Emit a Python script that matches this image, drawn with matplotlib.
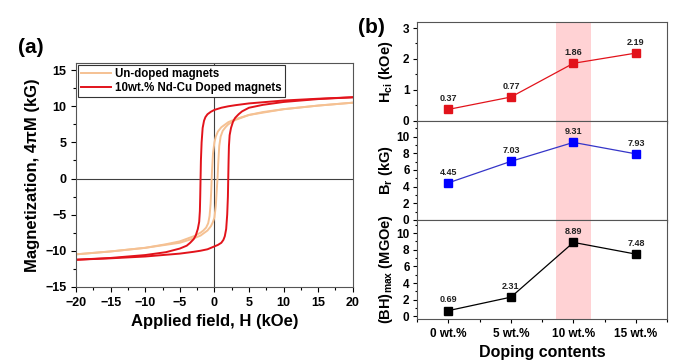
import matplotlib
matplotlib.use('Agg')
import matplotlib.pyplot as plt
from matplotlib.ticker import AutoMinorLocator, MultipleLocator
import numpy as np

plt.rcParams['font.family'] = ['Liberation Sans', 'DejaVu Sans']
plt.rcParams['font.weight'] = 'bold'
plt.rcParams['axes.labelweight'] = 'bold'
plt.rcParams['mathtext.fontset'] = 'custom'
plt.rcParams['mathtext.rm'] = 'Liberation Sans:bold'
plt.rcParams['mathtext.it'] = 'Liberation Sans:bold'
plt.rcParams['mathtext.bf'] = 'Liberation Sans:bold'
plt.rcParams['mathtext.default'] = 'rm'

# hysteresis loops (kOe, kG)
# doped, descending branch
h_dop_dn = [20, 15, 10, 5, 3, 2, 1, 0, -0.5, -1, -1.3, -1.5, -1.7, -1.85, -1.95, -2.0,
            -2.05, -2.1, -2.2, -2.4, -2.7, -3, -3.5, -4, -5, -7, -10, -15, -20]
m_dop_dn = [11.25, 11.05, 10.8, 10.4, 10.15, 10.0, 9.8, 9.5, 9.25, 8.9, 8.5, 8.0, 7.0, 5.0,
            2.5, 0, -2.5, -4.5, -6.0, -7.0, -7.9, -8.4, -8.9, -9.3, -9.7, -10.2, -10.6, -11.0, -11.25]
# doped, ascending branch
h_dop_up = [-20, -15, -10, -5, -3, -2, -1, 0, 0.5, 1, 1.3, 1.5, 1.7, 1.85, 1.95, 2.0,
            2.05, 2.1, 2.2, 2.4, 2.7, 3, 3.5, 4, 5, 7, 10, 15, 20]
m_dop_up = [-11.25, -11.05, -10.8, -10.4, -10.15, -10.0, -9.8, -9.4, -9.2, -8.9, -8.5, -8.0, -7.0,
            -5.0, -2.5, 0, 2.5, 4.5, 6.0, 7.0, 7.9, 8.4, 8.9, 9.3, 9.8, 10.2, 10.6, 11.0, 11.25]
# un-doped, descending branch
h_und_dn = [20, 15, 10, 5, 3, 2, 1, 0.5, 0.2, 0, -0.2, -0.35, -0.45, -0.55, -0.7, -0.9,
            -1.2, -1.6, -2, -3, -5, -7, -10, -15, -20]
m_und_dn = [10.5, 10.1, 9.6, 8.8, 8.2, 7.8, 7.1, 6.5, 5.8, 5.0, 3.5, 1.0, -1.5, -3.5, -5.2,
            -6.2, -6.8, -7.2, -7.5, -8.0, -8.7, -9.1, -9.6, -10.1, -10.5]
# un-doped, ascending branch
h_und_up = [-20, -15, -10, -5, -3, -2, -1, -0.5, -0.2, 0, 0.2, 0.35, 0.45, 0.55, 0.7, 0.9,
            1.2, 1.6, 2, 3, 5, 7, 10, 15, 20]
m_und_up = [-10.5, -10.1, -9.6, -8.9, -8.3, -7.9, -7.2, -6.6, -6.0, -5.4, -3.8, -1.5, 0, 2.0,
            4.5, 5.8, 6.6, 7.1, 7.5, 8.1, 8.8, 9.2, 9.6, 10.1, 10.5]

# panel (b)
doping = ['0 wt.%', '5 wt.%', '10 wt.%', '15 wt.%']
hci = [0.37, 0.77, 1.86, 2.19]
br = [4.45, 7.03, 9.31, 7.93]
bhmax = [0.69, 2.31, 8.89, 7.48]

c_und = '#F5C193'
c_dop = '#E2131B'

fig = plt.figure(figsize=(6.85, 3.64), dpi=100)

# ---- (a) hysteresis loops
ax = fig.add_axes([0.111, 0.212, 0.404, 0.615])
ax.axhline(0, color='#404040', lw=0.8, zorder=1)
ax.axvline(0, color='#404040', lw=0.8, zorder=1)
ax.plot(h_und_dn, m_und_dn, color=c_und, lw=1.4, label='Un-doped magnets')
ax.plot(h_und_up, m_und_up, color=c_und, lw=1.4)
ax.plot(h_dop_dn, m_dop_dn, color=c_dop, lw=1.4, label='10wt.% Nd-Cu Doped magnets')
ax.plot(h_dop_up, m_dop_up, color=c_dop, lw=1.4)
ax.set_xlim(-20, 20)
ax.set_ylim(-15, 16)
ax.xaxis.set_major_locator(MultipleLocator(5))
ax.yaxis.set_major_locator(MultipleLocator(5))
ax.xaxis.set_minor_locator(AutoMinorLocator(2))
ax.yaxis.set_minor_locator(AutoMinorLocator(2))
ax.tick_params(which='both', direction='out', labelsize=9, width=0.8)
ax.tick_params(which='major', length=3.5)
ax.tick_params(which='minor', length=2)
ax.set_xlabel('Applied field, H (kOe)', fontsize=12)
ax.set_ylabel('Magnetization, 4πM (kG)', fontsize=12)
for s in ax.spines.values():
    s.set_color('#555555')
leg = ax.legend(loc='upper left', fontsize=8.3, frameon=True, fancybox=False,
                edgecolor='#333333', framealpha=1, borderaxespad=0.15,
                handlelength=2.6, borderpad=0.25, labelspacing=0.2, handletextpad=0.4)
leg.get_frame().set_linewidth(0.8)

fig.text(0.027, 0.87, '(a)', fontsize=15, fontweight='bold', va='center')

# ---- (b) three stacked panels
x = np.arange(len(doping))
panels = [
    (hci, c_dop, c_dop, r'H$_{ci}$ (kOe)', (0, 3.2), 1),
    (br, '#3535C8', '#0000FF', r'B$_r$ (kG)', (0, 11.9), 2),
    (bhmax, 'black', 'black', r'(BH)$_{max}$ (MGOe)', (-0.3, 11.6), 2),
]
bottoms = [0.668, 0.396, 0.124]
axes_b = []
for (vals, lc, mc, lab, ylim, step), b in zip(panels, bottoms):
    a = fig.add_axes([0.609, b, 0.365, 0.272])
    a.axvspan(1.72, 2.28, color='#FFD2D4', lw=0, zorder=0)
    a.plot(x, vals, color=lc, lw=0.9, marker='s', ms=6, mfc=mc, mec=mc, zorder=3)
    for xi, v in zip(x, vals):
        a.annotate('%.2f' % v, (xi, v), xytext=(0, 4.5), textcoords='offset points',
                   ha='center', va='bottom', fontsize=6.5, fontweight='bold', color='#222222')
    a.set_xlim(-0.5, 3.5)
    a.set_ylim(*ylim)
    a.yaxis.set_major_locator(MultipleLocator(step))
    a.yaxis.set_minor_locator(AutoMinorLocator(2))
    a.set_xticks(x)
    a.xaxis.set_minor_locator(MultipleLocator(0.5))
    a.tick_params(which='both', direction='out', labelsize=8.5, width=0.8, pad=2.5)
    a.tick_params(which='major', length=3)
    a.tick_params(which='minor', length=1.8)
    a.set_ylabel(lab, fontsize=10.5)
    for s in a.spines.values():
        s.set_color('#555555')
    axes_b.append(a)

for a in axes_b[:-1]:
    a.set_xticklabels([])
axes_b[-1].set_xticklabels(doping, fontsize=8.5)
axes_b[-1].tick_params(axis='x', pad=3.5)
axes_b[-1].set_xlabel('Doping contents', fontsize=11.5)
for a in axes_b:
    a.yaxis.set_label_coords(-0.088, 0.5)

fig.text(0.523, 0.925, '(b)', fontsize=15, fontweight='bold', va='center')

fig.savefig('out.png', dpi=100)
